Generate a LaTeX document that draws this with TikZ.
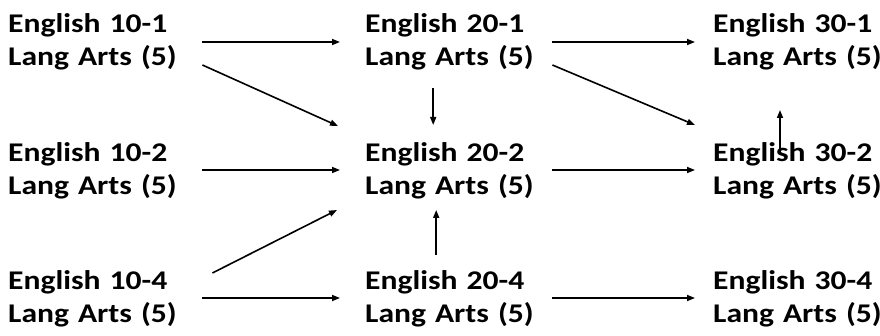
\documentclass[tikz,border=0pt]{standalone}
\usepackage{fontspec}
\newfontfamily\coursefont{Carlito}[FakeStretch=1.17]
\usepackage{tikz}
\usetikzlibrary{arrows.meta, calc}

\begin{document}
\begin{tikzpicture}[x=1pt, y=-1pt,
  course/.style={anchor=base west, align=left, inner sep=0pt, text width=175pt,
    font=\coursefont\bfseries\fontsize{27}{33}\selectfont},
  link/.style={line width=1.6pt, -{Triangle[length=8pt,width=6pt]}}]

      \useasboundingbox (0,0) rectangle (880,336);

      \node[course] (e101) at (8,33) {English 10-1\\Lang Arts (5)};
      \node[course] (e102) at (8,162) {English 10-2\\Lang Arts (5)};
      \node[course] (e104) at (8,290) {English 10-4\\Lang Arts (5)};
      \node[course] (e201) at (365,33) {English 20-1\\Lang Arts (5)};
      \node[course] (e202) at (365,162) {English 20-2\\Lang Arts (5)};
      \node[course] (e204) at (365,290) {English 20-4\\Lang Arts (5)};
      \node[course] (e301) at (713,33) {English 30-1\\Lang Arts (5)};
      \node[course] (e302) at (713,162) {English 30-2\\Lang Arts (5)};
      \node[course] (e304) at (713,290) {English 30-4\\Lang Arts (5)};

      \draw[link] ($(e101.base east)+(19,9)$) -- ($(e201.base west)+(-25,9)$);
      \draw[link] ($(e101.base east)+(19,32)$) -- ($(e202.base west)+(-27,-36)$);
      \draw[link] ($(e201.base)+(-19.5,55)$) -- ($(e202.base)+(-19.5,-37)$);
      \draw[link] ($(e201.base east)+(12,9)$) -- ($(e301.base west)+(-18,9)$);
      \draw[link] ($(e201.base east)+(12,32)$) -- ($(e302.base west)+(-18,-37)$);
      \draw[link] ($(e302.base west)+(67,-10)$) -- ($(e301.base west)+(67,77)$);

      \draw[link] ($(e102.base east)+(19,8)$) -- ($(e202.base west)+(-25,8)$);
      \draw[link] ($(e202.base east)+(12,8)$) -- ($(e302.base west)+(-18,8)$);

      \draw[link] ($(e104.base east)+(29,-17)$) -- ($(e202.base west)+(-28,48)$);
      \draw[link] ($(e204.base)+(-16.5,-35)$) -- ($(e202.base)+(-16.5,48)$);
      \draw[link] ($(e104.base east)+(19,8)$) -- ($(e204.base west)+(-25,8)$);
      \draw[link] ($(e204.base east)+(12,8)$) -- ($(e304.base west)+(-18,8)$);

    \end{tikzpicture}
\end{document}
